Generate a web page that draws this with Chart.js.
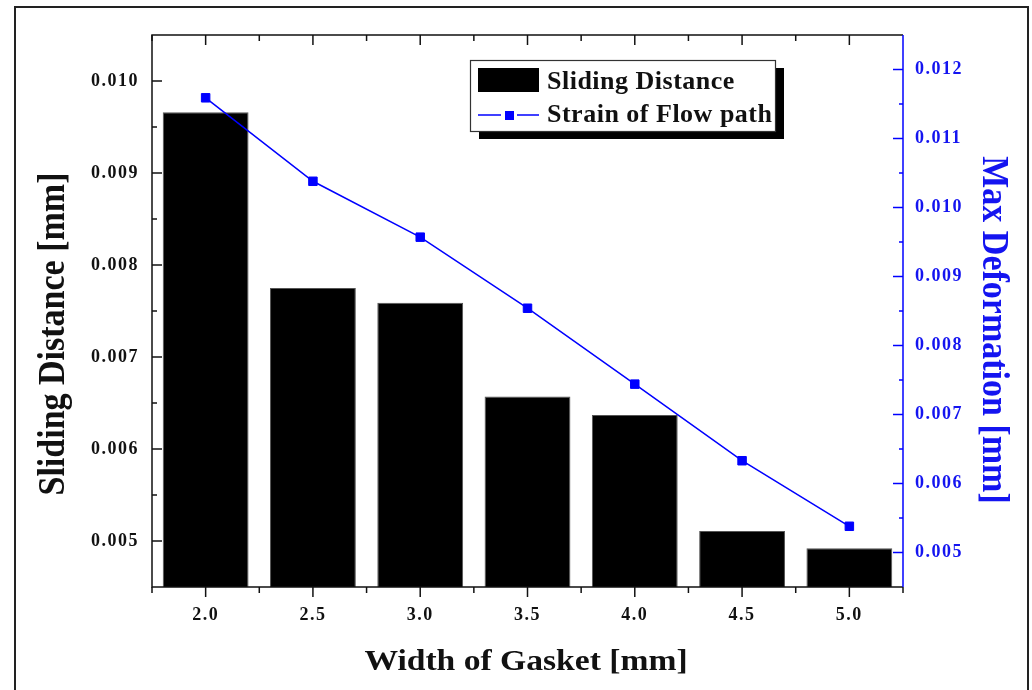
<!DOCTYPE html>
<html>
<head>
<meta charset="utf-8">
<title>Sliding Distance / Max Deformation vs Width of Gasket</title>
<script src="https://cdn.jsdelivr.net/npm/chart.js@4.4.1/dist/chart.umd.min.js"></script>
<style>
  body { margin: 0; background: #fff; }
  canvas { display: block; }
</style>
</head>
<body>
<canvas id="gasketChart" width="1032" height="690"></canvas>
<script>
// gasket widths [mm]
const widths = ["2.0", "2.5", "3.0", "3.5", "4.0", "4.5", "5.0"];
// bars, left axis [mm]
const slidingDistance = [0.00966, 0.00775, 0.00759, 0.00657, 0.00637, 0.00511, 0.00492];
// line, right axis [mm]
const maxDeformation = [0.01159, 0.01038, 0.00957, 0.00854, 0.00744, 0.00633, 0.00538];
const leftTicks = [0.005, 0.006, 0.007, 0.008, 0.009, 0.010];
const rightTicks = [0.005, 0.006, 0.007, 0.008, 0.009, 0.010, 0.011, 0.012];

const BLUE = "#0000ff";
const BLUE_TEXT = "#1414f0";
const INK = "#111111";
const SERIF = "'Liberation Serif', 'Times New Roman', serif";
const tickFont = { family: SERIF, size: 18, weight: "bold" };

// text squeezed/stretched horizontally on screen, optionally rotated
function stretchedText(ctx, text, x, y, angle, sx, font, color, spacing) {
    ctx.save();
    ctx.translate(x, y);
    ctx.scale(sx, 1);
    ctx.rotate(angle);
    ctx.font = font;
    ctx.fillStyle = color;
    ctx.letterSpacing = spacing || "0px";
    ctx.textAlign = "center";
    ctx.textBaseline = "middle";
    ctx.fillText(text, 0, 0);
    ctx.restore();
}

function seg(ctx, x1, y1, x2, y2) {
    ctx.beginPath();
    ctx.moveTo(x1, y1);
    ctx.lineTo(x2, y2);
    ctx.stroke();
}

const axisFrame = {
    id: "axisFrame",
    beforeDraw(chart) {
        chart.ctx.letterSpacing = "1.5px";
    },
    afterDraw(chart) {
        const { ctx, chartArea: a, scales } = chart;
        const x = scales.x, yl = scales.y, yr = scales.y1;
        ctx.save();
        ctx.letterSpacing = "0px";

        // outer frame
        ctx.strokeStyle = "#222";
        ctx.lineWidth = 2;
        ctx.strokeRect(15, 7, 1013, 700);

        // plot box
        ctx.lineWidth = 1.5;
        ctx.strokeStyle = INK;
        ctx.beginPath();
        ctx.moveTo(a.right, a.top);
        ctx.lineTo(a.left, a.top);
        ctx.lineTo(a.left, a.bottom);
        ctx.lineTo(a.right, a.bottom);
        ctx.stroke();

        // x ticks: majors at categories, minors at category edges (bottom out, top in)
        const half = (x.getPixelForTick(1) - x.getPixelForTick(0)) / 2;
        widths.forEach((w, i) => {
            const px = x.getPixelForTick(i);
            seg(ctx, px, a.bottom, px, a.bottom + 10);
            seg(ctx, px, a.top, px, a.top + 10);
            seg(ctx, px - half, a.bottom, px - half, a.bottom + 6);
            seg(ctx, px - half, a.top, px - half, a.top + 6);
            if (i === widths.length - 1) {
                seg(ctx, px + half, a.bottom, px + half, a.bottom + 6);
            }
        });

        // left ticks, pointing into the plot
        leftTicks.forEach((v, i) => {
            const py = yl.getPixelForValue(v);
            seg(ctx, a.left, py, a.left + 10, py);
            if (i < leftTicks.length - 1) {
                const pm = yl.getPixelForValue((v + leftTicks[i + 1]) / 2);
                seg(ctx, a.left, pm, a.left + 5, pm);
            }
        });

        // right axis in blue
        ctx.strokeStyle = BLUE;
        seg(ctx, a.right, a.top, a.right, a.bottom);
        rightTicks.forEach((v, i) => {
            const py = yr.getPixelForValue(v);
            seg(ctx, a.right, py, a.right - 10, py);
            if (i < rightTicks.length - 1) {
                const pm = yr.getPixelForValue((v + rightTicks[i + 1]) / 2);
                seg(ctx, a.right, pm, a.right - 4, pm);
            }
        });

        // axis titles
        stretchedText(ctx, "Width of Gasket [mm]", 526, 662, 0, 1.12,
            "bold 30px " + SERIF, INK);
        stretchedText(ctx, "Sliding Distance [mm]", 54, 334, -Math.PI / 2, 1.1,
            "bold 34px " + SERIF, INK);
        stretchedText(ctx, "Max Deformation [mm]", 993, 330, Math.PI / 2, 1.1,
            "bold 34px " + SERIF, BLUE_TEXT);

        // legend box with drop shadow
        const bx = 470, by = 60, bw = 305, bh = 71;
        ctx.fillStyle = "#000";
        ctx.fillRect(bx + 9, by + 8, bw, bh);
        ctx.fillStyle = "#fff";
        ctx.fillRect(bx, by, bw, bh);
        ctx.strokeStyle = "#333";
        ctx.lineWidth = 1.2;
        ctx.strokeRect(bx + 0.5, by + 0.5, bw, bh);

        const barSet = chart.data.datasets[1];
        const lineSet = chart.data.datasets[0];
        ctx.fillStyle = "#000";
        ctx.fillRect(478, 68, 61, 24);
        ctx.strokeStyle = BLUE;
        ctx.lineWidth = 1.5;
        seg(ctx, 478, 115, 501, 115);
        seg(ctx, 517, 115, 539, 115);
        ctx.fillStyle = BLUE;
        ctx.fillRect(505, 111, 9, 9);

        ctx.font = "bold 26px " + SERIF;
        ctx.letterSpacing = "0.5px";
        ctx.fillStyle = INK;
        ctx.textAlign = "left";
        ctx.textBaseline = "alphabetic";
        ctx.fillText(barSet.label, 547, 89);
        ctx.fillText(lineSet.label, 547, 122);
        ctx.restore();
    }
};

new Chart(document.getElementById("gasketChart"), {
    type: "bar",
    data: {
        labels: widths,
        datasets: [
            {
                type: "line",
                label: "Strain of Flow path",
                data: maxDeformation,
                yAxisID: "y1",
                borderColor: BLUE,
                backgroundColor: BLUE,
                borderWidth: 1.5,
                pointStyle: "rect",
                pointRadius: 6,
                pointBorderWidth: 1,
                pointBorderColor: BLUE,
                pointBackgroundColor: BLUE,
                tension: 0,
                order: 1
            },
            {
                type: "bar",
                label: "Sliding Distance",
                data: slidingDistance,
                yAxisID: "y",
                backgroundColor: "#000000",
                borderColor: "#555555",
                borderWidth: 1,
                barPercentage: 0.8,
                categoryPercentage: 1,
                order: 2
            }
        ]
    },
    options: {
        responsive: false,
        animation: false,
        devicePixelRatio: 1,
        layout: { padding: { top: 35, left: 0, right: 0, bottom: 0 } },
        plugins: {
            legend: { display: false },
            tooltip: { enabled: false }
        },
        scales: {
            x: {
                offset: true,
                grid: { display: false, drawTicks: false },
                border: { display: false },
                ticks: { color: INK, font: tickFont, padding: 18, maxRotation: 0, autoSkip: false },
                afterFit(s) { s.height = 103; }
            },
            y: {
                position: "left",
                min: 0.0045,
                max: 0.0105,
                grid: { display: false, drawTicks: false },
                border: { display: false },
                afterBuildTicks(s) { s.ticks = leftTicks.map(v => ({ value: v })); },
                ticks: { color: INK, font: tickFont, padding: 13, callback: v => v.toFixed(3) },
                afterFit(s) { s.width = 152; }
            },
            y1: {
                position: "right",
                min: 0.0045,
                max: 0.0125,
                grid: { display: false, drawTicks: false },
                border: { display: false },
                afterBuildTicks(s) { s.ticks = rightTicks.map(v => ({ value: v })); },
                ticks: { color: BLUE_TEXT, font: tickFont, padding: 12, callback: v => v.toFixed(3) },
                afterFit(s) { s.width = 129; }
            }
        }
    },
    plugins: [axisFrame]
});
</script>
</body>
</html>
